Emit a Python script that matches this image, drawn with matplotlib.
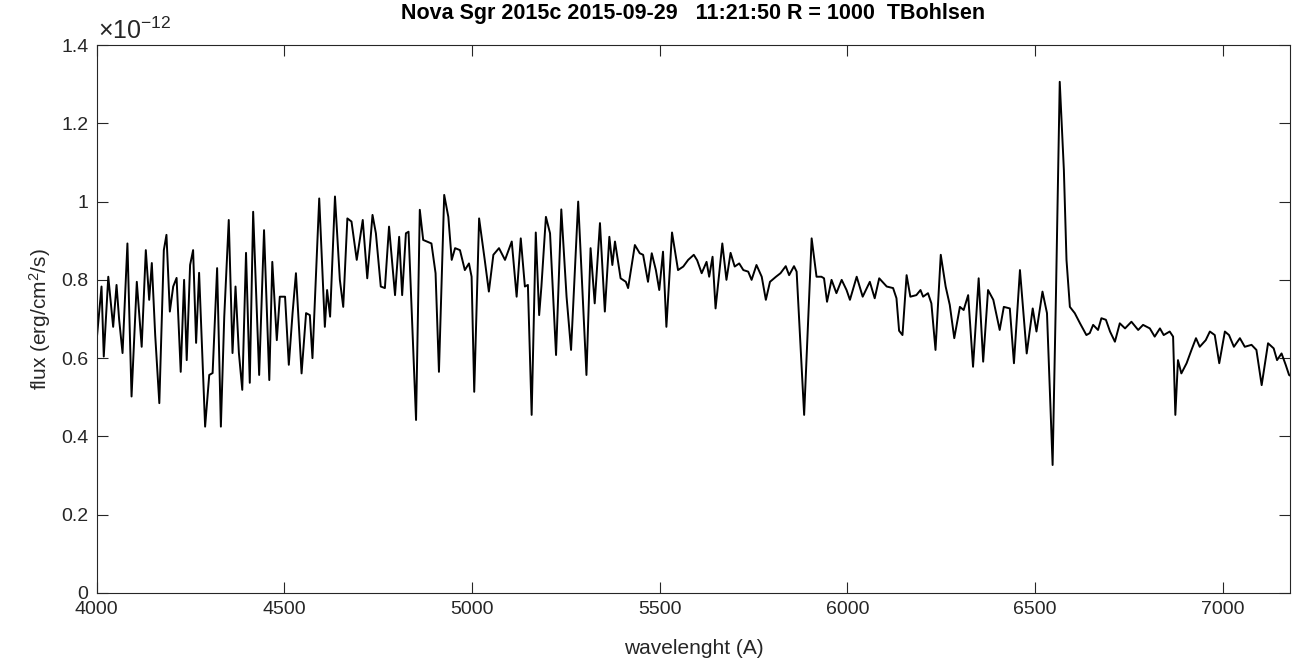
import numpy as np
import matplotlib
matplotlib.use("Agg")
import matplotlib.pyplot as plt
from matplotlib.ticker import FormatStrFormatter

plt.rcParams['font.family'] = ['Liberation Sans', 'DejaVu Sans']
plt.rcParams['mathtext.fontset'] = 'custom'
plt.rcParams['mathtext.rm'] = 'Liberation Sans'
plt.rcParams['mathtext.it'] = 'Liberation Sans:italic'
plt.rcParams['mathtext.bf'] = 'Liberation Sans:bold'

# spectrum, wavelength in A, flux in 1e-12 erg/cm^2/s
wl_blue = [4000, 4013, 4019, 4031, 4044, 4053, 4060, 4069, 4082, 4093, 4107, 4120,
           4131, 4140, 4147, 4156, 4167, 4179, 4186, 4195, 4204, 4213, 4224, 4233,
           4240, 4249, 4257, 4265, 4273, 4289, 4300, 4309, 4321, 4331, 4340, 4352,
           4362, 4370, 4379, 4388, 4398, 4408, 4417, 4433, 4446, 4460, 4468, 4480,
           4488, 4502, 4512, 4522, 4531, 4546, 4558, 4568, 4575, 4593, 4608, 4614,
           4622, 4635, 4648, 4657, 4668, 4679, 4693, 4709, 4721, 4735, 4744, 4757,
           4768, 4779, 4795, 4806, 4814, 4824, 4831, 4851, 4861, 4870, 4892, 4903,
           4912, 4926, 4937, 4946, 4955, 4968, 4981, 4992, 4999]
fx_blue = [0.646, 0.783, 0.604, 0.808, 0.680, 0.787, 0.698, 0.613, 0.893, 0.502, 0.795, 0.629,
           0.876, 0.749, 0.843, 0.659, 0.485, 0.876, 0.915, 0.719, 0.783, 0.805, 0.565, 0.800,
           0.595, 0.838, 0.876, 0.639, 0.818, 0.425, 0.557, 0.562, 0.830, 0.425, 0.706, 0.953,
           0.613, 0.783, 0.613, 0.519, 0.869, 0.537, 0.974, 0.557, 0.927, 0.544, 0.846, 0.646,
           0.757, 0.757, 0.583, 0.715, 0.817, 0.561, 0.715, 0.710, 0.600, 1.008, 0.680, 0.774,
           0.706, 1.013, 0.800, 0.731, 0.957, 0.949, 0.851, 0.953, 0.804, 0.966, 0.919, 0.783,
           0.779, 0.936, 0.761, 0.910, 0.761, 0.919, 0.923, 0.442, 0.979, 0.902, 0.893, 0.817,
           0.565, 1.017, 0.961, 0.851, 0.881, 0.876, 0.825, 0.842, 0.808]

wl_green = [5006, 5019, 5034, 5045, 5057, 5072, 5088, 5106, 5119, 5130, 5141, 5149,
            5159, 5170, 5179, 5185, 5197, 5208, 5224, 5238, 5252, 5264, 5283, 5305,
            5316, 5327, 5341, 5354, 5366, 5374, 5381, 5396, 5410, 5416, 5434, 5447,
            5456, 5469, 5479, 5490, 5499, 5509, 5518, 5533, 5549, 5563, 5576, 5591,
            5600, 5612, 5625, 5632, 5641, 5649, 5667, 5678, 5689, 5700, 5712, 5723,
            5736, 5745, 5758, 5772, 5783, 5794, 5810, 5822, 5836, 5845, 5858, 5865,
            5885, 5905, 5918, 5931, 5938, 5946, 5958, 5971, 5985, 5998]
fx_green = [0.514, 0.957, 0.851, 0.770, 0.864, 0.881, 0.851, 0.898, 0.757, 0.906, 0.783, 0.787,
            0.455, 0.921, 0.710, 0.783, 0.961, 0.919, 0.608, 0.980, 0.757, 0.621, 1.000, 0.557,
            0.881, 0.740, 0.945, 0.719, 0.910, 0.838, 0.898, 0.804, 0.795, 0.779, 0.889, 0.868,
            0.864, 0.795, 0.868, 0.825, 0.774, 0.872, 0.680, 0.921, 0.825, 0.834, 0.851, 0.864,
            0.850, 0.817, 0.846, 0.808, 0.859, 0.727, 0.893, 0.800, 0.869, 0.834, 0.842, 0.825,
            0.821, 0.800, 0.838, 0.808, 0.749, 0.795, 0.808, 0.817, 0.835, 0.812, 0.835, 0.821,
            0.455, 0.906, 0.808, 0.808, 0.804, 0.744, 0.800, 0.766, 0.800, 0.774]

wl_red = [6007, 6025, 6041, 6060, 6073, 6085, 6105, 6122, 6131, 6138, 6147, 6158,
          6168, 6184, 6195, 6202, 6215, 6224, 6235, 6249, 6262, 6273, 6285, 6300,
          6310, 6322, 6335, 6350, 6362, 6375, 6389, 6406, 6417, 6433, 6444, 6460,
          6478, 6494, 6504, 6520, 6532, 6547, 6556, 6566, 6577, 6584, 6593, 6606,
          6620, 6637, 6646, 6655, 6668, 6677, 6689, 6700, 6713, 6726, 6740, 6757,
          6775, 6788, 6806, 6819, 6833, 6843, 6859, 6868, 6874, 6881, 6890, 6904,
          6917, 6929, 6939, 6955, 6966, 6979, 6991, 7006, 7017, 7030, 7046, 7059,
          7077, 7090, 7104, 7121, 7136, 7145, 7157, 7168, 7177, 7184]
fx_red = [0.749, 0.808, 0.757, 0.795, 0.753, 0.804, 0.783, 0.779, 0.753, 0.670, 0.659, 0.812,
          0.757, 0.761, 0.774, 0.757, 0.766, 0.740, 0.621, 0.864, 0.783, 0.736, 0.651, 0.731,
          0.723, 0.761, 0.578, 0.804, 0.591, 0.774, 0.749, 0.672, 0.731, 0.727, 0.587, 0.825,
          0.612, 0.727, 0.668, 0.770, 0.715, 0.327, 0.766, 1.306, 1.081, 0.851, 0.731, 0.715,
          0.689, 0.659, 0.664, 0.685, 0.672, 0.702, 0.698, 0.668, 0.642, 0.689, 0.676, 0.693,
          0.672, 0.685, 0.676, 0.655, 0.676, 0.659, 0.668, 0.655, 0.455, 0.595, 0.561, 0.587,
          0.621, 0.651, 0.629, 0.646, 0.668, 0.659, 0.587, 0.668, 0.659, 0.629, 0.651, 0.629,
          0.634, 0.621, 0.531, 0.638, 0.625, 0.595, 0.612, 0.583, 0.557, 0.553]

xticks = [4000, 4500, 5000, 5500, 6000, 6500, 7000]
yticks = [0, 0.2, 0.4, 0.6, 0.8, 1.0, 1.2, 1.4]
title = "Nova Sgr 2015c 2015-09-29   11:21:50 R = 1000  TBohlsen"

wl = np.array(wl_blue + wl_green + wl_red)
fx = np.array(fx_blue + fx_green + fx_red)

grey = '#262626'
fig = plt.figure(figsize=(12.92, 6.63), dpi=100)
ax = fig.add_axes([0.0748, 0.1056, 0.9238, 0.8265])
ax.plot(wl, fx, color='black', lw=1.4)

ax.set_xlim(4000, 7180)
ax.set_ylim(0, 1.4)
ax.set_xticks(xticks)
ax.set_yticks(yticks)
ax.yaxis.set_major_formatter(FormatStrFormatter('%g'))
ax.tick_params(direction='in', top=True, right=True, length=8, width=0.8,
               labelsize=14, colors=grey, pad=6)
for s in ax.spines.values():
    s.set_color(grey)
    s.set_linewidth(0.8)

ax.set_title(title, fontsize=15.5, fontweight='bold', color='black', pad=19)
ax.set_xlabel("wavelenght (A)", fontsize=15, color=grey, labelpad=15)
ax.set_ylabel("flux (erg/cm$^2$/s)", fontsize=15, color=grey, labelpad=6)
ax.annotate(r"$\times$10$^{-12}$", xy=(0, 1), xycoords='axes fraction',
            xytext=(1, 1), textcoords='offset points', fontsize=18, color=grey,
            ha='left', va='bottom')

fig.savefig("out.png", dpi=100)
